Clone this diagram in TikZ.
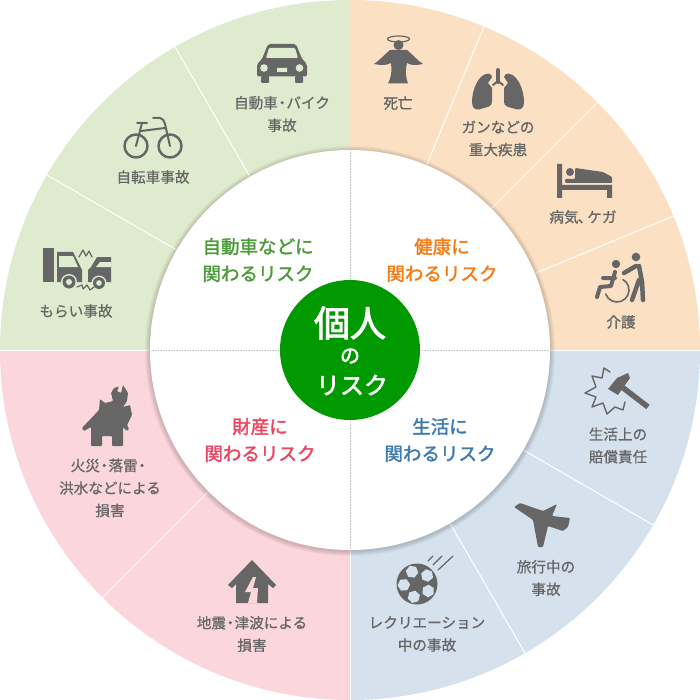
\documentclass[tikz,border=0pt]{standalone}
\usepackage{fontspec}
\setmainfont{Noto Sans CJK JP}
\newfontfamily\labelfont[FakeBold=0.8]{Noto Sans CJK JP}
\newfontfamily\headfont[FakeBold=1.8]{Noto Sans CJK JP}
\newfontfamily\corefont[FakeBold=2.5]{Noto Sans CJK JP}
\newcommand{\midpt}{\hspace{-3pt}・\hspace{-3pt}}
\usepackage{tikz}

\definecolor{greenband}{HTML}{DFEBCE}
\definecolor{orangeband}{HTML}{FBE0C3}
\definecolor{blueband}{HTML}{D5E1ED}
\definecolor{pinkband}{HTML}{FBD6DC}
\definecolor{icongray}{HTML}{666666}
\definecolor{coregreen}{HTML}{009900}
\definecolor{headgreen}{HTML}{4C9A3A}
\definecolor{headorange}{HTML}{F57C14}
\definecolor{headblue}{HTML}{3D7AB0}
\definecolor{headred}{HTML}{EB4560}

\begin{document}
\begin{tikzpicture}[x=1pt,y=-1pt,
  risk/.style={align=center,text=icongray,inner sep=0pt,
    font=\labelfont\fontsize{14.6}{22.5}\selectfont},
  head/.style={align=center,inner sep=0pt,
    font=\headfont\fontsize{18.5}{27}\selectfont},
  core/.style={inner sep=0pt,text=white},
  icon/.style={fill=icongray,draw=none},
  wire/.style={draw=icongray,line width=#1,line cap=round,line join=round},
  wire/.default=2.5,
  sepline/.style={draw=white,line width=1pt},
  seam/.style={draw=white,line width=0.5pt},
  crossline/.style={draw=black!22,line width=0.6pt,densely dotted}]

\useasboundingbox (0,0) rectangle (700,700);

\fill[greenband] (0,350) arc (180:270:350) -- (350,350) -- cycle;
\fill[orangeband] (350,0) arc (270:360:350) -- (350,350) -- cycle;
\fill[blueband] (700,350) arc (0:90:350) -- (350,350) -- cycle;
\fill[pinkband] (350,700) arc (90:180:350) -- (350,350) -- cycle;

\begin{scope}[shift={(350,350)}]
  \foreach \a in {30,60,135,210,240,292.5,315,337.5}
    \draw[sepline] (\a:200) -- (\a:350);
  \foreach \a in {0,90,180}
    \draw[seam] (\a:200) -- (\a:350);
\end{scope}

\foreach \r in {205,204,203,202,201}
  \fill[black,opacity=0.035] (350,351) circle (\r);
\fill[white] (350,350) circle (200);
\draw[crossline] (150,350) -- (550,350);
\draw[crossline] (350,150) -- (350,550);
\fill[coregreen] (350,350) circle (70);

\node[core,font=\corefont\fontsize{36}{36}\selectfont] (core1) at (350,323) {個人};
\node[core,font=\corefont\fontsize{20}{20}\selectfont] (core2) at (350,356) {の};
\node[core,font=\corefont\fontsize{24}{24}\selectfont] (core3) at (352,385) {リスク};

\node[head,text=headgreen] (carhead) at (258,260) {自動車などに\\関わるリスク};
\node[head,text=headorange] (healthhead) at (442,260) {健康に\\関わるリスク};
\node[head,text=headred] (assethead) at (260,440) {財産に\\関わるリスク};
\node[head,text=headblue] (lifehead) at (440,440) {生活に\\関わるリスク};

\node[risk] (car) at (282,114) {自動車\midpt バイク\\事故};
\node[risk] (bike) at (153,177) {自転車事故};
\node[risk] (hit) at (76,311) {もらい事故};
\node[risk] (death) at (398,103) {死亡};
\node[risk] (cancer) at (498,138.5) {ガンなどの\\重大疾患};
\node[risk] (sick) at (583,217) {病気\hspace{-1pt}、\hspace{-5pt}ケガ};
\node[risk] (care) at (621,322) {介護};
\node[risk] (duty) at (618,445.5) {生活上の\\賠償責任};
\node[risk] (travel) at (546,578) {旅行中の\\事故};
\node[risk] (leisure) at (427,634) {レクリエーション\\中の事故};
\node[risk] (fire) at (110,488) {火災\midpt 落雷\midpt \\洪水などによる\\損害};
\node[risk] (quake) at (252,634) {地震\midpt 津波による\\損害};

% car
\fill[icon,rounded corners=2pt] (268,44) -- (296,44) -- (302,59) -- (307,64) -- (307,76.5)
  -- (257,76.5) -- (257,64) -- (262,59) -- cycle;
\fill[greenband,rounded corners=1pt] (269,48) -- (295,48) -- (298,58) -- (266,58) -- cycle;
\fill[greenband] (264,68) circle (3.8) (299.5,68) circle (3.8) (277,68) rectangle (287,72);
\fill[icon,rounded corners=1pt] (261,76) rectangle (269,83) (295,76) rectangle (303,83);

% bicycle
\draw[wire] (136,146) circle (11.5) (170,146) circle (11.5);
\draw[wire=2] (136,146) -- (142,123) (137,123) -- (147,123) (141,131) -- (165,128);
\draw[wire=2] (153,118) -- (160,118) .. controls (163,118) and (164,121) .. (165,124) -- (170,146);

% crash
\fill[icon] (43,248) rectangle (54,282);
\fill[icon] (57,252) -- (73,252) -- (82,270) -- (82,282) -- (57,282) -- cycle;
\fill[greenband] (59,256) -- (73,256) -- (78,267) -- (59,267) -- cycle;
\fill[icon] (88,270) -- (91,267) -- (97,257) -- (111,257) -- (111,282) -- (88,282) -- cycle;
\fill[greenband] (100,262) -- (111,262) -- (111,267) -- (96,267) -- cycle;
\fill[greenband] (69,282) circle (8) (99,283) circle (7.5);
\fill[icon] (69,282) circle (6.5) (99,283) circle (6);
\fill[greenband] (69,282) circle (3) (99,283) circle (2.8);
\draw[wire=1.2] (79,257) -- (83,250) -- (86,256) -- (89,251) -- (92,257);
\draw[wire=1.2] (77,287) -- (82,285) -- (83,289) -- (87,285) -- (90,290) -- (94,287);

% angel
\draw[wire=1.2] (398.5,39) ellipse (11 and 3);
\fill[icon] (398.5,45) circle (5);
\fill[icon] (390,50) .. controls (385,54) and (380,60) .. (374,64)
  .. controls (379,65) and (386,66) .. (391,63) .. controls (392,72) and (391,78) .. (388,83.5)
  -- (408,83.5) .. controls (406,78) and (405,72) .. (407,63)
  .. controls (411,66) and (418,65) .. (423,64) .. controls (417,60) and (412,54) .. (407,50) -- cycle;

% lungs
\draw[wire=4] (498,70) -- (498,82);
\draw[wire=2] (498,81) -- (493,85) (498,81) -- (503,85);
\fill[icon] (486,74) .. controls (478,76) and (472,90) .. (472,102)
  .. controls (472,108) and (475,110) .. (479,109.5) -- (489,106.5) .. controls (491,106) and (492,104) .. (492,100)
  -- (492,88) -- (488,83) -- (492,77) .. controls (491,74) and (489,73) .. (486,74) -- cycle;
\fill[icon] (510,74) .. controls (518,76) and (524,90) .. (524,102)
  .. controls (524,108) and (521,110) .. (517,109.5) -- (507,106.5) .. controls (505,106) and (504,104) .. (504,100)
  -- (504,88) -- (508,83) -- (504,77) .. controls (505,74) and (507,73) .. (510,74) -- cycle;

% bed
\fill[icon] (557,164) rectangle (562,198) (562,185) rectangle (612,190) (607,190) rectangle (612,198);
\fill[icon] (570,172) circle (4);
\fill[icon,rounded corners=1pt] (575,168) -- (603,172) -- (612,177) -- (612,183) -- (565,183) -- (565,179) -- (575,179) -- cycle;

% wheelchair
\fill[icon] (636,257) circle (4.3) (616,264) circle (4.2);
\draw[wire=4.5] (639,266) -- (642,282) -- (643,300) (639,280) -- (632,300) (636,266) -- (624,273);
\draw[wire=4] (615,272) -- (611,286) -- (600,287) -- (597,297) (615,278) -- (603,278);
\draw[wire=1.6] (617,290) ++(160:12) arc (160:-60:12);

% hammer
\draw[wire=1.4] (610,372) -- (604,368) -- (602,378) -- (592,376) -- (596,387) -- (585,393) -- (596,397)
  -- (592,407) -- (603,403) -- (607,414) -- (615,407) -- (623,410) -- (625,402);
\fill[icon] (608,389) -- (617,378) -- (628,373) -- (630,378) -- (618,395) -- cycle;
\draw[icongray,line width=5.5pt] (622,387) -- (648,407);

% airplane
\fill[icon,rounded corners=1pt] (514,507) -- (520,503) -- (543,511) -- (557,504) -- (552,516) -- (570,518)
  -- (568,527) -- (563,531) -- (548,526) -- (543,547) -- (538,547) -- (533,520) -- cycle;

% ball
\fill[icon] (417,584) circle (20.5);
\foreach \a in {32,104,176,248,320}
  \fill[blueband] (417,584) ++(\a:13.2) +(\a:6.3) -- +(\a+60:6.3) -- +(\a+120:6.3) -- +(\a+180:6.3)
    -- +(\a+240:6.3) -- +(\a+300:6.3) -- cycle;
\draw[wire=1.2] (428,561) -- (433,556) (433,565) -- (442,556) (438,570) -- (453,556);

% fire
\fill[icon,rounded corners=0.8pt] (82,428) -- (99,410) -- (100,399) -- (105,403) -- (113,401) -- (111,393) -- (114,388)
  -- (119,386.5) -- (117,391) -- (121,393) -- (123,385) -- (128,393) -- (127,401) -- (123,407) -- (130,405) -- (132,415) -- (127,425)
  -- (129,429) -- (127,431) -- (123,427) -- (123,446) -- (112,446) -- (112,436) -- (102,436) -- (102,446) -- (91,446)
  -- (91,427) -- (84,431) -- cycle;

% quake
\fill[icon] (228,585) -- (252,560) -- (276,585) -- (273,588) -- (268,584) -- (268,603) -- (236,603) -- (236,584) -- (232,588) -- cycle;
\fill[pinkband] (253,577) -- (245,592) -- (251,592) -- (248,603) -- (257,603) -- (258,588) -- (253,588) -- (256,577) -- cycle;

\end{tikzpicture}
\end{document}
